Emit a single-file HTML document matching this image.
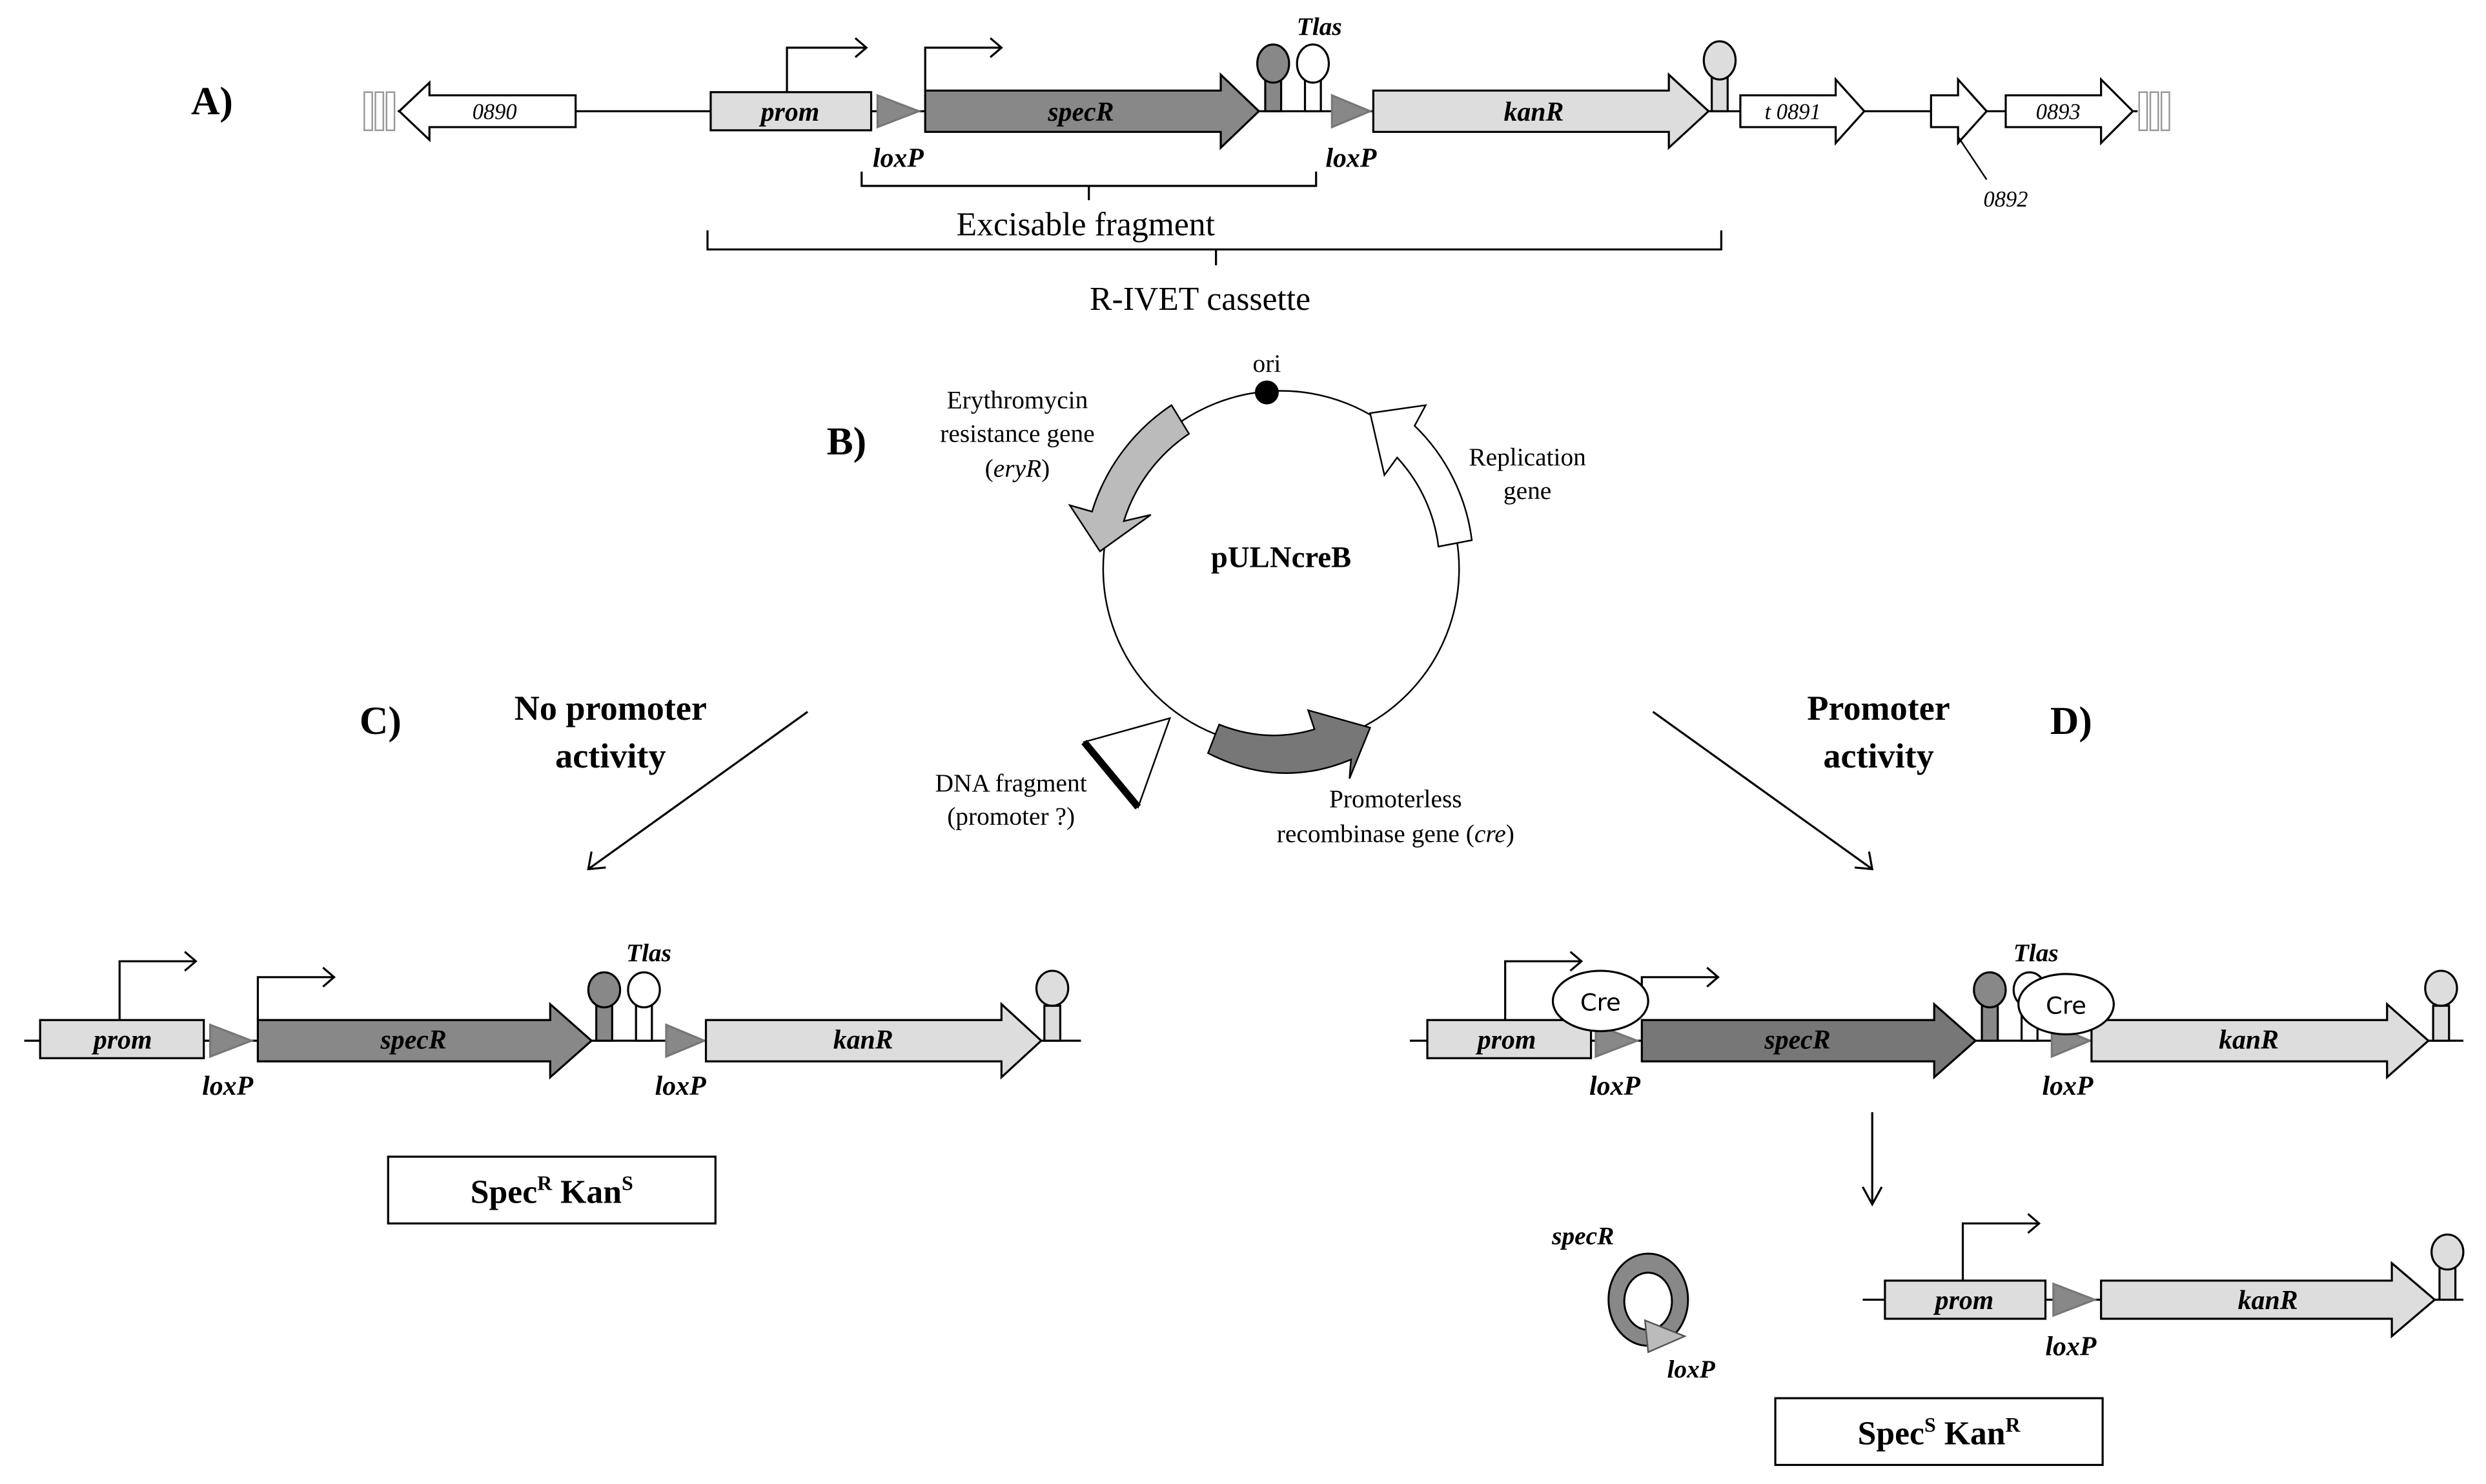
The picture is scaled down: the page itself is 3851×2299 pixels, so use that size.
<!DOCTYPE html>
<html><head><meta charset="utf-8"><style>html,body{margin:0;padding:0;background:#fff}svg{display:block}</style></head>
<body>
<svg width="3851" height="2299" viewBox="0 0 1564 934" xmlns="http://www.w3.org/2000/svg" font-family="'Liberation Serif', serif">
<rect width="1564" height="934" fill="#fff"/>
<g stroke="#000" stroke-width="1.3">
<!-- ===== A ===== -->
<line x1="250" y1="70" x2="1345" y2="70"/>
<g fill="#fff" stroke="#999" stroke-width="1"><rect x="229" y="58" width="5" height="24"/><rect x="236" y="58" width="5" height="24"/><rect x="243" y="58" width="5" height="24"/>
<rect x="1346" y="58" width="5" height="24"/><rect x="1353" y="58" width="5" height="24"/><rect x="1360" y="58" width="5" height="24"/></g>
<polygon points="362,60 270,60 270,52 251,70 270,88 270,80 362,80" fill="#fff"/>
<rect x="447" y="58" width="101" height="24" fill="#ddd"/>
<polyline points="495,58 495,30 545,30" fill="none"/><polyline points="538,24 545,30 538,36" fill="none"/>
<polygon points="552,60 578,70 552,80" fill="#888" stroke="#777"/>
<polygon points="582,57 768,57 768,47 792,70 768,93 768,83 582,83" fill="#888"/>
<polyline points="582,57 582,30 630,30" fill="none"/><polyline points="623,24 630,30 623,36" fill="none"/>
<rect x="796" y="50" width="10" height="20" fill="#888"/><ellipse cx="801" cy="40" rx="10" ry="12" fill="#888"/>
<rect x="821" y="50" width="10" height="20" fill="#fff"/><ellipse cx="826" cy="40" rx="10" ry="12" fill="#fff"/>
<polygon points="838,60 862,70 838,80" fill="#888" stroke="#777"/>
<polygon points="864,57 1050,57 1050,47 1075,70 1050,93 1050,83 864,83" fill="#ddd"/>
<rect x="1077" y="48" width="10" height="22" fill="#ddd"/><ellipse cx="1082" cy="38" rx="10" ry="12" fill="#ddd"/>
<polygon points="1095,60 1155,60 1155,50 1173,70 1155,90 1155,80 1095,80" fill="#fff"/>
<polygon points="1215,60 1232,60 1232,50 1250,70 1232,90 1232,80 1215,80" fill="#fff"/>
<polygon points="1262,60 1322,60 1322,50 1342,70 1322,90 1322,80 1262,80" fill="#fff"/>
<line x1="1232" y1="86" x2="1250" y2="113" stroke-width="1"/>
<polyline points="542,108 542,117 828,117 828,108" fill="none"/><line x1="685" y1="117" x2="685" y2="126"/>
<polyline points="445,145 445,157 1083,157 1083,145" fill="none"/><line x1="765" y1="157" x2="765" y2="167"/>
</g>
<g font-style="italic" text-anchor="middle" font-size="14">
<text x="311" y="75">0890</text><text x="1128" y="75">t 0891</text><text x="1295" y="75">0893</text><text x="1262" y="130">0892</text>
</g>
<g font-style="italic" font-weight="bold" text-anchor="middle" font-size="17">
<text x="497" y="76">prom</text><text x="680" y="76">specR</text><text x="965" y="76">kanR</text>
<text x="565" y="105">loxP</text><text x="850" y="105">loxP</text><text x="830" y="22" font-size="16">Tlas</text>
</g>
<text x="120" y="72" font-size="25" font-weight="bold">A)</text>
<text x="683" y="148" font-size="21" text-anchor="middle" font-family="'Liberation Serif', serif">Excisable fragment</text>
<text x="755" y="195" font-size="21" text-anchor="middle" font-family="'Liberation Serif', serif">R-IVET cassette</text>

<!-- ===== B ===== -->
<text x="520" y="286" font-size="25" font-weight="bold">B)</text>
<g stroke="#000">
<circle cx="806" cy="358" r="112" fill="none" stroke-width="1"/>
<path d="M737,255 A124,124 0 0 0 687,322 L673,318 L692,347 L724,324 L707,328 A103,103 0 0 1 748,273 Z" fill="#bbb" stroke-width="1"/>
<path d="M905,344 A100,100 0 0 0 879,288 L871,299 L862,260 L897,255 L890,268 A121,121 0 0 1 926,340 Z" fill="#fff" stroke-width="1"/>
<path d="M767,456 Q797,468 827,459 L823,447 L862,458 L849,490 L850,478 Q805,497 760,474 Z" fill="#777" stroke-width="1"/>
<polygon points="736,452 682,467 716,508" fill="#fff" stroke-width="1"/>
<line x1="682" y1="467" x2="716" y2="508" stroke-width="4.5"/>
<circle cx="797" cy="247" r="7" fill="#000"/>
</g>
<text x="797" y="234" font-size="16" text-anchor="middle">ori</text>
<g font-size="16" text-anchor="middle">
<text x="640" y="257">Erythromycin</text><text x="640" y="278">resistance gene</text><text x="640" y="300">(<tspan font-style="italic">eryR</tspan>)</text>
<text x="961" y="293">Replication</text><text x="961" y="314">gene</text>
<text x="636" y="498">DNA fragment</text><text x="636" y="519">(promoter ?)</text>
<text x="878" y="508">Promoterless</text><text x="878" y="530">recombinase gene (<tspan font-style="italic">cre</tspan>)</text>
</g>
<text x="806" y="357" font-size="19" font-weight="bold" text-anchor="middle">pULNcreB</text>

<!-- ===== C / D headers ===== -->
<text x="226" y="462" font-size="25" font-weight="bold">C)</text>
<text x="1290" y="462" font-size="25" font-weight="bold">D)</text>
<g font-size="22" font-weight="bold" text-anchor="middle">
<text x="384" y="453">No promoter</text><text x="384" y="483">activity</text>
<text x="1182" y="453">Promoter</text><text x="1182" y="483">activity</text>
</g>
<g stroke="#000" stroke-width="1.3" fill="none">
<line x1="508" y1="448" x2="370" y2="547"/><polyline points="372,536 370,547 381,546"/>
<line x1="1040" y1="448" x2="1178" y2="547"/><polyline points="1167,546 1178,547 1176,536"/>
<line x1="1178" y1="700" x2="1178" y2="758"/><polyline points="1172,747 1178,758 1184,747"/>
</g>

<!-- ===== C construct ===== -->
<g stroke="#000" stroke-width="1.3">
<line x1="15" y1="655" x2="680" y2="655"/>
<rect x="25" y="642" width="103" height="24" fill="#ddd"/>
<polyline points="75,642 75,605 123,605" fill="none"/><polyline points="116,599 123,605 116,611" fill="none"/>
<polygon points="132,645 158,655 132,665" fill="#888" stroke="#777"/>
<polygon points="162,642 346,642 346,632 372,655 346,678 346,668 162,668" fill="#888"/>
<polyline points="162,642 162,615 210,615" fill="none"/><polyline points="203,609 210,615 203,621" fill="none"/>
<rect x="375" y="633" width="10" height="22" fill="#888"/><ellipse cx="380" cy="623" rx="10" ry="11" fill="#888"/>
<rect x="400" y="633" width="10" height="22" fill="#fff"/><ellipse cx="405" cy="623" rx="10" ry="11" fill="#fff"/>
<polygon points="419,645 443,655 419,665" fill="#888" stroke="#777"/>
<polygon points="444,642 630,642 630,632 655,655 630,678 630,668 444,668" fill="#ddd"/>
<rect x="657" y="633" width="10" height="22" fill="#ddd"/><ellipse cx="662" cy="622" rx="10" ry="11" fill="#ddd"/>
<rect x="244" y="728" width="206" height="42" fill="#fff"/>
</g>
<g font-style="italic" font-weight="bold" text-anchor="middle" font-size="17">
<text x="77" y="660">prom</text><text x="260" y="660">specR</text><text x="543" y="660">kanR</text>
<text x="143" y="689">loxP</text><text x="428" y="689">loxP</text><text x="408" y="605" font-size="16">Tlas</text>
</g>
<text x="347" y="757" font-size="21" font-weight="bold" text-anchor="middle">Spec<tspan font-size="13" dy="-8">R</tspan><tspan dy="8"> Kan</tspan><tspan font-size="13" dy="-8">S</tspan></text>

<!-- ===== D construct ===== -->
<g stroke="#000" stroke-width="1.3">
<line x1="887" y1="655" x2="1550" y2="655"/>
<rect x="898" y="642" width="103" height="24" fill="#ddd"/>
<polyline points="947,642 947,605 995,605" fill="none"/><polyline points="988,599 995,605 988,611" fill="none"/>
<polygon points="1004,645 1030,655 1004,665" fill="#888" stroke="#777"/>
<polygon points="1033,642 1217,642 1217,632 1243,655 1217,678 1217,668 1033,668" fill="#777"/>
<polyline points="1033,632 1033,615 1081,615" fill="none"/><polyline points="1074,609 1081,615 1074,621" fill="none"/>
<rect x="1247" y="633" width="10" height="22" fill="#888"/><ellipse cx="1252" cy="623" rx="10" ry="11" fill="#888"/>
<rect x="1272" y="633" width="10" height="22" fill="#fff"/><ellipse cx="1277" cy="623" rx="10" ry="11" fill="#fff"/>
<polygon points="1291,645 1315,655 1291,665" fill="#888" stroke="#777"/>
<polygon points="1316,642 1502,642 1502,632 1528,655 1502,678 1502,668 1316,668" fill="#ddd"/>
<rect x="1531" y="633" width="10" height="22" fill="#ddd"/><ellipse cx="1536" cy="622" rx="10" ry="11" fill="#ddd"/>
<ellipse cx="1007" cy="630" rx="30" ry="19" fill="#fff"/>
<ellipse cx="1300" cy="632" rx="30" ry="19" fill="#fff"/>
<!-- excised circle -->
<path d="M1037,789 a25,29 0 1 0 0.1,0 Z M1037,801 a15,18 0 1 1 -0.1,0 Z" fill="#888" fill-rule="evenodd" stroke="#000" stroke-width="1.2"/>
<polygon points="1035,831 1060,841 1037,851" fill="#bbb" stroke="#555" stroke-width="1"/>
<!-- final construct -->
<line x1="1172" y1="818" x2="1550" y2="818"/>
<rect x="1186" y="806" width="101" height="24" fill="#ddd"/>
<polyline points="1235,806 1235,770 1283,770" fill="none"/><polyline points="1276,764 1283,770 1276,776" fill="none"/>
<polygon points="1292,808 1318,818 1292,828" fill="#888" stroke="#777"/>
<polygon points="1322,806 1505,806 1505,795 1532,818 1505,841 1505,830 1322,830" fill="#ddd"/>
<rect x="1535" y="798" width="10" height="20" fill="#ddd"/><ellipse cx="1540" cy="788" rx="10" ry="11" fill="#ddd"/>
<rect x="1117" y="880" width="206" height="42" fill="#fff"/>
</g>
<g font-family="'DejaVu Sans', sans-serif" font-size="15" text-anchor="middle"><text x="1007" y="636">Cre</text><text x="1300" y="638">Cre</text></g>
<g font-style="italic" font-weight="bold" text-anchor="middle" font-size="17">
<text x="948" y="660">prom</text><text x="1131" y="660">specR</text><text x="1415" y="660">kanR</text>
<text x="1016" y="689">loxP</text><text x="1301" y="689">loxP</text><text x="1281" y="605" font-size="16">Tlas</text>
<text x="996" y="783" font-size="16">specR</text><text x="1064" y="867" font-size="16">loxP</text>
<text x="1236" y="824">prom</text><text x="1427" y="824">kanR</text><text x="1303" y="853">loxP</text>
</g>
<text x="1220" y="909" font-size="21" font-weight="bold" text-anchor="middle">Spec<tspan font-size="13" dy="-8">S</tspan><tspan dy="8"> Kan</tspan><tspan font-size="13" dy="-8">R</tspan></text>
</svg>
</body></html>
